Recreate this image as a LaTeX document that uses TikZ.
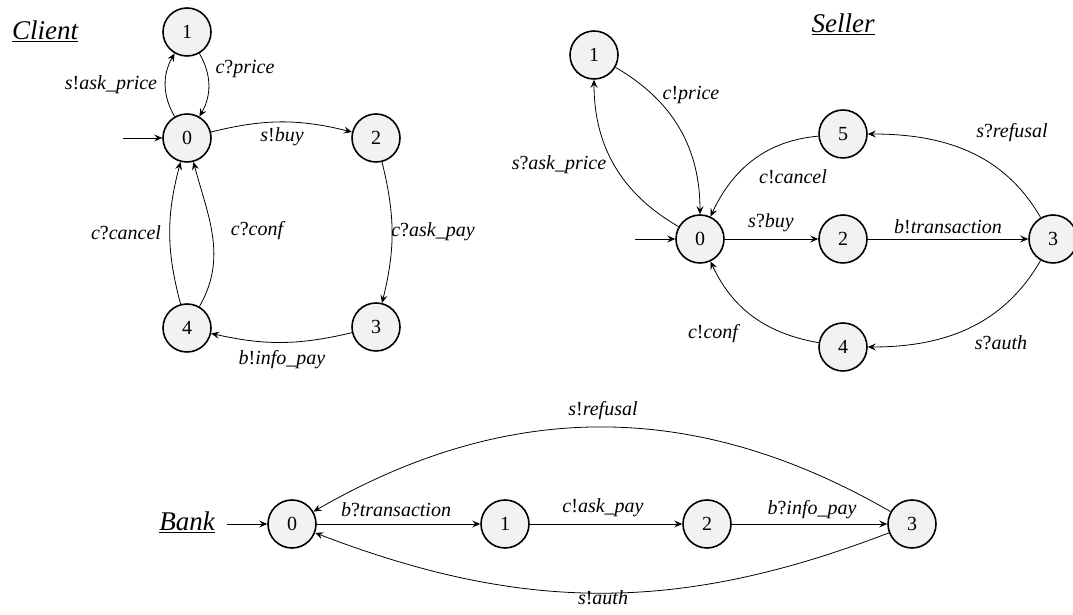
\documentclass[tikz,border=0pt]{standalone}
\usepackage{fontspec}
\setmainfont{Liberation Serif}
\usetikzlibrary{arrows.meta}
\newcommand\pS{{\upshape !}}
\newcommand\pR{{\upshape ?}}
\begin{document}
\begin{tikzpicture}[x=1pt,y=1pt,
  state/.style={circle,draw,line width=1.6pt,fill=black!5,minimum size=48pt,inner sep=0pt,font=\fontsize{20}{24}\selectfont},
  edge/.style={line width=0.8pt,-{Stealth[length=8pt,width=7pt,inset=3pt]}},
  lbl/.style={font=\fontsize{20}{24}\selectfont\itshape,inner sep=0pt},
  ttl/.style={font=\fontsize{27}{32}\selectfont\itshape,inner sep=0pt,anchor=base}]
\useasboundingbox (0,0) rectangle (1073,615);
% ---------- Client ----------
\node[ttl] (tc) at (45,575) {\underline{Client}};
\node[state] (c0) at (187,477) {0};
\node[state] (c1) at (187,583) {1};
\node[state] (c2) at (376,477) {2};
\node[state] (c3) at (376,288) {3};
\node[state] (c4) at (187,287) {4};
\coordinate (cin) at (123,477);
\draw[edge] (cin) -- (c0);
\draw[edge] (c0) to[bend left=30] (c1);
\draw[edge] (c1) to[bend left=30] (c0);
\draw[edge] (c0) to[bend left=14] (c2);
\draw[edge] (c2) to[bend left=14] (c3);
\draw[edge] (c3) to[bend left=13] (c4);
\draw[edge] (c4) to[out=105,in=-105] (c0);
\draw[edge] (c4) to[out=60,in=-75] (c0);
\node[lbl] (lc1) at (111,530) {s\pS ask\_price};
\node[lbl] (lc2) at (245,546) {c\pR price};
\node[lbl] (lc3) at (282,478) {s\pS buy};
\node[lbl] (lc4) at (126,382) {c\pR cancel};
\node[lbl] (lc5) at (257,384) {c\pR conf};
\node[lbl] (lc6) at (433,383) {c\pR ask\_pay};
\node[lbl] (lc7) at (282,255) {b\pS info\_pay};
% ---------- Seller ----------
\node[ttl] (ts) at (843,582) {\underline{Seller}};
\node[state] (s0) at (700,376) {0};
\node[state] (s1) at (594,560) {1};
\node[state] (s2) at (843,376) {2};
\node[state] (s3) at (1053,376) {3};
\node[state] (s4) at (843,268) {4};
\node[state] (s5) at (843,481) {5};
\coordinate (sin) at (635,376);
\draw[edge] (sin) -- (s0);
\draw[edge] (s0) to[out=150,in=-90] (s1);
\draw[edge] (s1) to[out=-30,in=90] (s0);
\draw[edge] (s5) to[out=185,in=65] (s0);
\draw[edge] (s0) -- (s2);
\draw[edge] (s2) -- (s3);
\draw[edge] (s3) to[out=120,in=0] (s5);
\draw[edge] (s3) to[out=-120,in=0] (s4);
\draw[edge] (s4) to[out=170,in=-65] (s0);
\node[lbl] (ls1) at (691,520) {c\pS price};
\node[lbl] (ls2) at (559,450) {s\pR ask\_price};
\node[lbl] (ls3) at (793,438) {c\pS cancel};
\node[lbl] (ls4) at (1012,482) {s\pR refusal};
\node[lbl] (ls5) at (771,392) {s\pR buy};
\node[lbl] (ls6) at (948,388) {b\pS transaction};
\node[lbl] (ls7) at (713,281) {c\pS conf};
\node[lbl] (ls8) at (1001,272) {s\pR auth};
% ---------- Bank ----------
\node[ttl] (tb) at (187,84) {\underline{Bank}};
\node[state] (b0) at (292,91) {0};
\node[state] (b1) at (505,91) {1};
\node[state] (b2) at (707,91) {2};
\node[state] (b3) at (912,91) {3};
\coordinate (bin) at (227,91);
\draw[edge] (bin) -- (b0);
\draw[edge] (b0) -- (b1);
\draw[edge] (b1) -- (b2);
\draw[edge] (b2) -- (b3);
\draw[edge] (b3) to[bend right=30] (b0);
\draw[edge] (b3) to[bend left=21] (b0);
\node[lbl] (lb1) at (396,105) {b\pR transaction};
\node[lbl] (lb2) at (603,107) {c\pS ask\_pay};
\node[lbl] (lb3) at (812,105) {b\pR info\_pay};
\node[lbl] (lb4) at (603,204) {s\pS refusal};
\node[lbl] (lb5) at (603,17) {s\pS auth};
\end{tikzpicture}
\end{document}
